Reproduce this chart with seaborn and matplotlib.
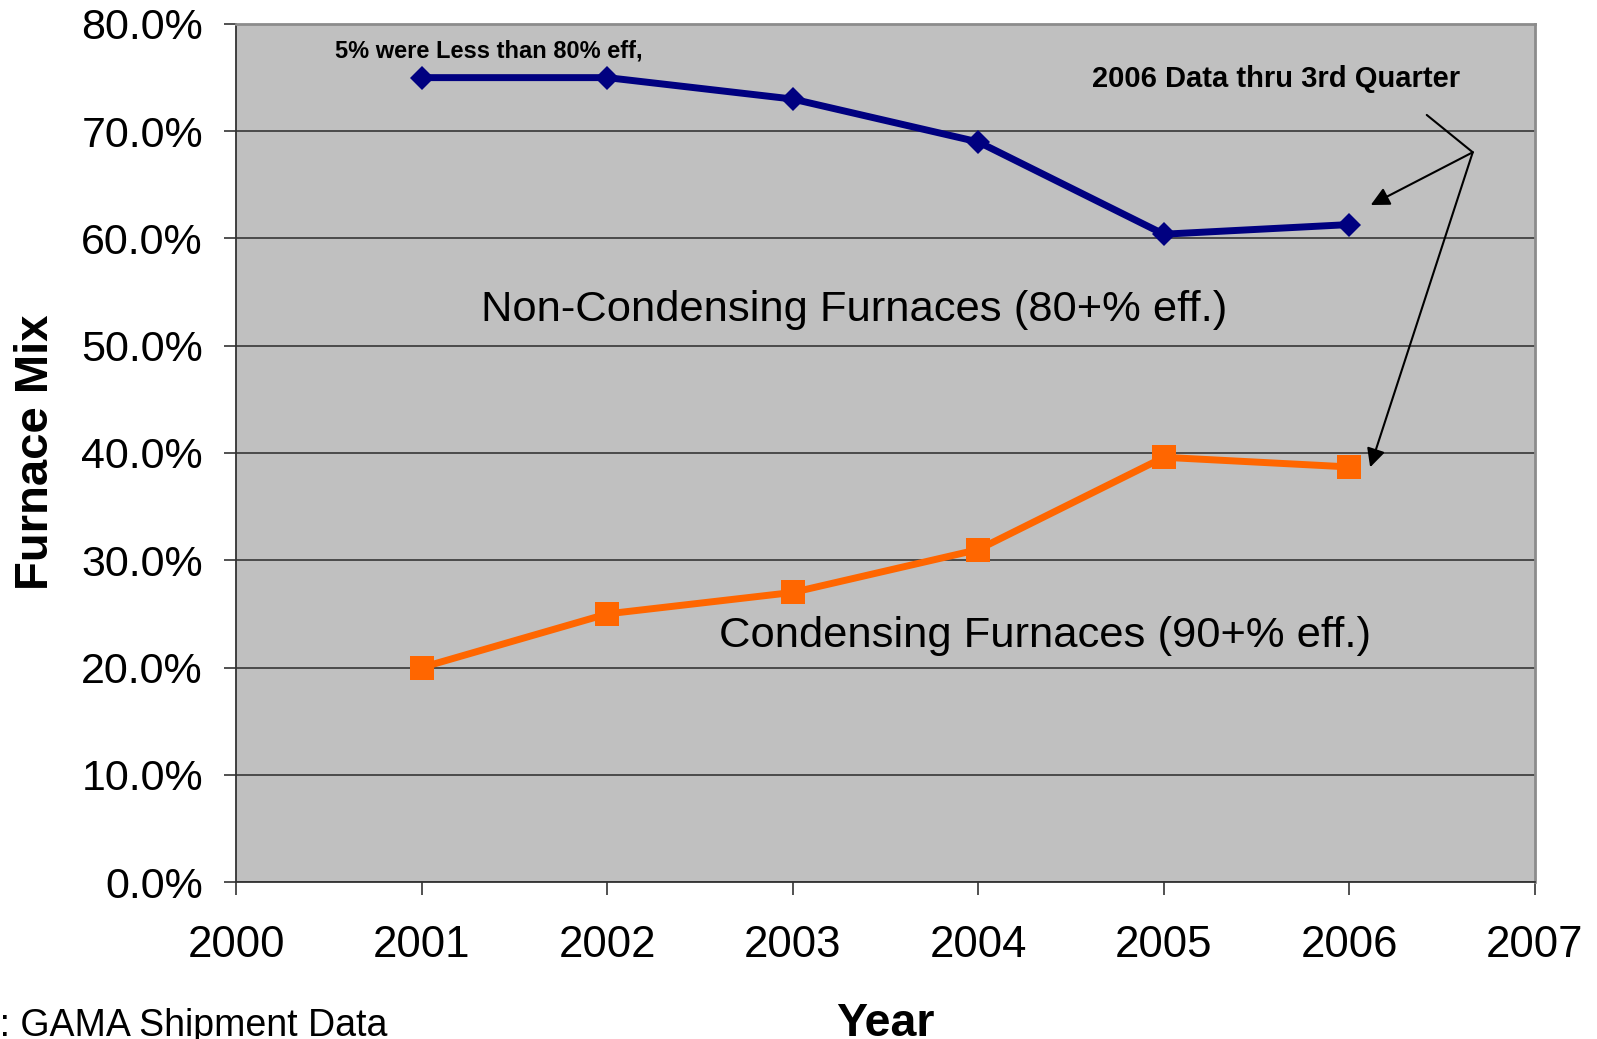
import matplotlib
matplotlib.use("Agg")
import matplotlib.pyplot as plt
import seaborn as sns
import pandas as pd
from matplotlib.ticker import FuncFormatter

# ---- data ----
years = [2001, 2002, 2003, 2004, 2005, 2006]
non_condensing = [75.0, 75.0, 73.0, 69.0, 60.4, 61.3]
condensing = [20.0, 25.0, 27.0, 31.0, 39.6, 38.7]
series_names = ["Non-Condensing Furnaces (80+% eff.)", "Condensing Furnaces (90+% eff.)"]
x_ticks = [2000, 2001, 2002, 2003, 2004, 2005, 2006, 2007]
y_ticks = [0, 10, 20, 30, 40, 50, 60, 70, 80]

df = pd.DataFrame({
    "Year": years * 2,
    "Mix": non_condensing + condensing,
    "Series": [series_names[0]] * len(years) + [series_names[1]] * len(years),
})

sns.set_style("ticks")
plt.rcParams["font.family"] = ["Liberation Sans", "DejaVu Sans"]
plt.rcParams["text.color"] = "black"
plt.rcParams["xtick.color"] = "black"
plt.rcParams["ytick.color"] = "black"

fig = plt.figure(figsize=(15.97, 10.39), dpi=100)
ax = fig.add_axes([236.3 / 1597, 1 - 882 / 1039, 1298.6 / 1597, 858 / 1039])
ax.set_facecolor("#C0C0C0")

palette = {series_names[0]: "#000080", series_names[1]: "#FF6600"}
markers = {series_names[0]: "D", series_names[1]: "s"}

ax.grid(axis="y", color="#2a2a2a", linewidth=1.1, zorder=0)
ax.set_axisbelow(True)

sns.lineplot(data=df, x="Year", y="Mix", hue="Series", style="Series",
             palette=palette, markers=markers, dashes=False, linewidth=5,
             markersize=14, markeredgewidth=0, legend=False, ax=ax, zorder=3)
for line in ax.get_lines():
    if line.get_marker() == "s":
        line.set_markersize(17)
    elif line.get_marker() == "D":
        line.set_markersize(12)

ax.set_xlim(2000, 2007)
ax.set_ylim(0, 80)
ax.set_xticks(x_ticks)
ax.set_yticks(y_ticks)
ax.xaxis.set_major_formatter(FuncFormatter(lambda v, p: f"{int(v)}"))
ax.yaxis.set_major_formatter(FuncFormatter(lambda v, p: f"{v:.1f}%"))
ax.tick_params(axis="x", labelsize=31.5, length=9, width=1.2, color="#333333",
               labelcolor="black", pad=22, direction="out")
ax.tick_params(axis="y", labelsize=31, length=9, width=1.2, color="#333333",
               labelcolor="black", pad=15, direction="out")
ax.set_xlabel("")
ax.set_ylabel("")

for side in ["left", "bottom"]:
    ax.spines[side].set_color("#333333")
    ax.spines[side].set_linewidth(1.3)
for side in ["top", "right"]:
    ax.spines[side].set_visible(True)
    ax.spines[side].set_color("#8c8c8c")
    ax.spines[side].set_linewidth(2)

# in-plot labels
ax.text(2003.33, 53.35, series_names[0], ha="center", va="center", fontsize=31.3, color="black", zorder=4)
ax.text(2004.36, 22.95, series_names[1], ha="center", va="center", fontsize=31.3, color="black", zorder=4)
ax.text(2001.362, 76.83, "5% were Less than 80% eff,", ha="center", va="baseline",
        fontsize=17, fontweight="bold", color="black", zorder=4)
ax.text(2005.607, 74.15, "2006 Data thru 3rd Quarter", ha="center", va="baseline",
        fontsize=21, fontweight="bold", color="black", zorder=4)

# callout arrows
callout_start = (2006.417, 71.52)
callout_joint = (2006.665, 68.04)
callout_tips = [(2006.115, 63.12), (2006.112, 38.67)]
ax.plot([callout_start[0], callout_joint[0]], [callout_start[1], callout_joint[1]],
        color="black", linewidth=1.5, zorder=5, clip_on=False)
for tip in callout_tips:
    ax.annotate("", xy=tip, xytext=callout_joint,
                arrowprops=dict(arrowstyle="-|>", color="black", lw=1.5,
                                mutation_scale=28, shrinkA=0, shrinkB=0),
                zorder=5, annotation_clip=False)

# axis titles and source
fig.text(36 / 1597, 1 - 452 / 1039, "Furnace Mix", rotation=90, ha="center", va="center",
         fontsize=34, fontweight="bold", color="black")
fig.text(885 / 1597, 1 - 1036 / 1039, "Year", ha="center", va="baseline",
         fontsize=33.5, fontweight="bold", color="black")
fig.text(387 / 1597, 1 - 1036.5 / 1039, "Source: GAMA Shipment Data", ha="right", va="baseline",
         fontsize=27, color="black")

fig.savefig("out.png", dpi=100)
